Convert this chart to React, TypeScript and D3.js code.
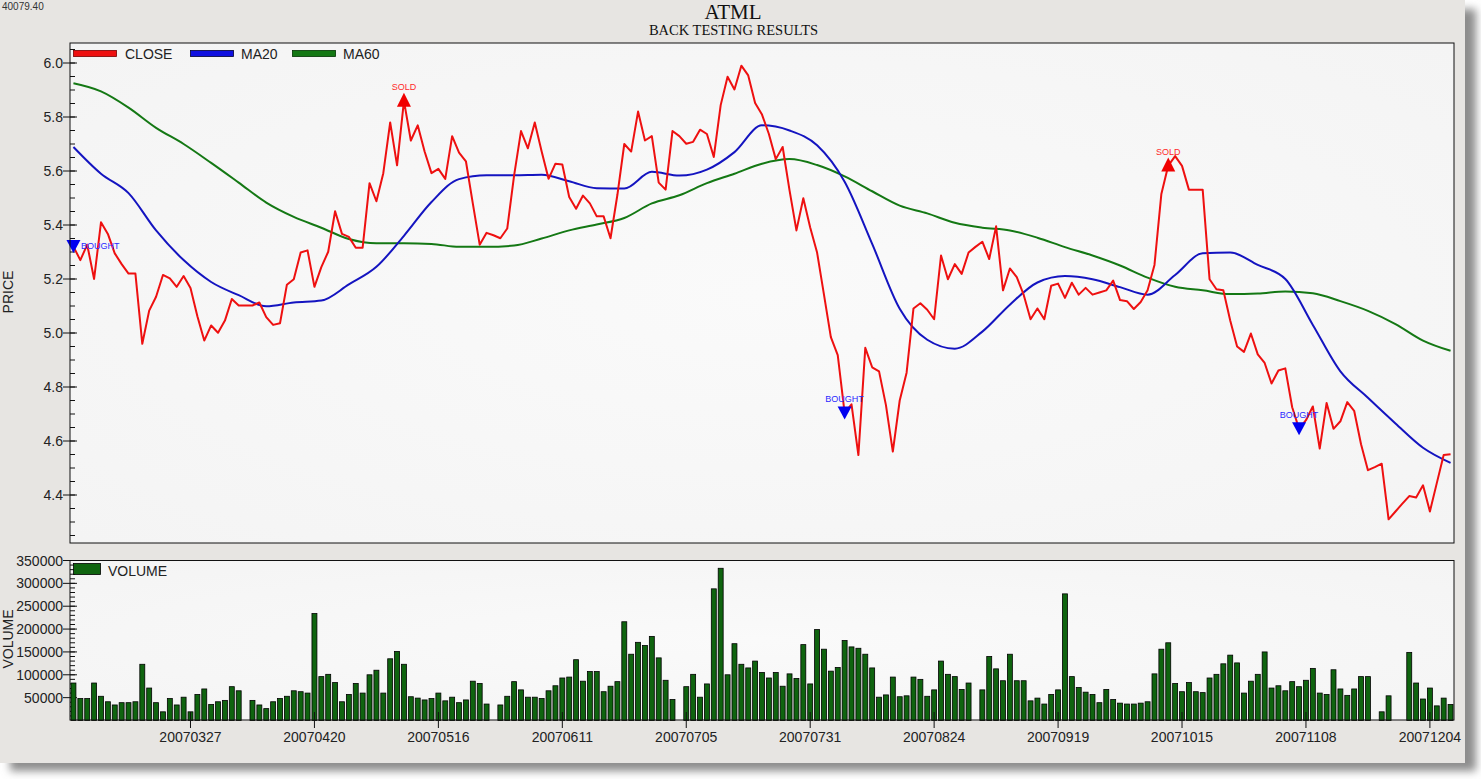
import React from 'react';
import * as d3 from 'd3';

// ---------- DATA ----------
const CLOSE: number[] = [
  5.32, 5.27, 5.327, 5.2, 5.41, 5.367, 5.295, 5.255, 5.22, 5.22,
  4.96, 5.083, 5.134, 5.215, 5.202, 5.171, 5.211, 5.167, 5.062, 4.972,
  5.028, 5.001, 5.046, 5.126, 5.102, 5.102, 5.102, 5.113, 5.059, 5.03,
  5.036, 5.179, 5.199, 5.298, 5.306, 5.171, 5.244, 5.301, 5.451, 5.367,
  5.356, 5.316, 5.316, 5.555, 5.488, 5.592, 5.78, 5.621, 5.86, 5.713,
  5.769, 5.672, 5.592, 5.608, 5.571, 5.729, 5.668, 5.636, 5.48, 5.327,
  5.371, 5.362, 5.351, 5.387, 5.584, 5.748, 5.684, 5.78, 5.672, 5.571,
  5.627, 5.624, 5.504, 5.46, 5.509, 5.48, 5.432, 5.432, 5.351, 5.512,
  5.7, 5.672, 5.82, 5.713, 5.729, 5.557, 5.531, 5.748, 5.729, 5.701,
  5.708, 5.753, 5.737, 5.652, 5.844, 5.949, 5.902, 5.99, 5.954, 5.852,
  5.809, 5.737, 5.644, 5.689, 5.528, 5.38, 5.499, 5.391, 5.298, 5.142,
  4.985, 4.918, 4.704, 4.736, 4.548, 4.945, 4.873, 4.858, 4.733, 4.561,
  4.75, 4.853, 5.091, 5.11, 5.086, 5.051, 5.287, 5.199, 5.255, 5.219,
  5.298, 5.319, 5.338, 5.274, 5.395, 5.158, 5.239, 5.207, 5.142, 5.051,
  5.091, 5.051, 5.175, 5.183, 5.13, 5.186, 5.142, 5.167, 5.142, 5.15,
  5.158, 5.194, 5.122, 5.118, 5.089, 5.115, 5.158, 5.252, 5.515, 5.62,
  5.655, 5.619, 5.531, 5.531, 5.531, 5.199, 5.162, 5.158, 5.046, 4.95,
  4.93, 4.998, 4.921, 4.889, 4.813, 4.861, 4.869, 4.725, 4.645, 4.677,
  4.728, 4.572, 4.741, 4.645, 4.673, 4.744, 4.712, 4.588, 4.492, 4.503,
  4.516, 4.31, 4.339, 4.368, 4.396, 4.391, 4.436, 4.339, 4.444, 4.548,
  4.551,
];

const VOLUME: number[] = [
  82000, 48000, 48000, 82000, 53000, 41000, 34000, 39000, 39000, 41000,
  123000, 71000, 39000, 19000, 48000, 34000, 51000, 19000, 57000, 69000,
  35000, 41000, 44000, 74000, 65000, 0, 44000, 34000, 26000, 41000,
  48000, 53000, 65000, 63000, 60000, 234000, 96000, 101000, 83000, 41000,
  57000, 81000, 60000, 100000, 110000, 60000, 135000, 151000, 123000, 52000,
  49000, 45000, 48000, 60000, 43000, 51000, 39000, 45000, 86000, 81000,
  36000, 0, 34000, 53000, 85000, 67000, 51000, 51000, 48000, 65000,
  76000, 93000, 95000, 133000, 86000, 107000, 107000, 63000, 75000, 85000,
  216000, 145000, 171000, 164000, 184000, 137000, 88000, 46000, 0, 74000,
  101000, 51000, 80000, 288000, 333000, 100000, 168000, 123000, 115000, 130000,
  105000, 93000, 105000, 75000, 102000, 92000, 166000, 80000, 199000, 156000,
  108000, 116000, 175000, 161000, 158000, 145000, 115000, 51000, 56000, 95000,
  52000, 54000, 95000, 90000, 53000, 67000, 130000, 101000, 96000, 68000,
  82000, 0, 67000, 140000, 113000, 87000, 145000, 87000, 87000, 43000,
  49000, 36000, 57000, 67000, 277000, 96000, 72000, 62000, 57000, 39000,
  68000, 46000, 38000, 36000, 36000, 38000, 41000, 102000, 156000, 170000,
  81000, 63000, 83000, 63000, 61000, 93000, 101000, 124000, 143000, 126000,
  60000, 86000, 101000, 150000, 71000, 76000, 65000, 85000, 74000, 88000,
  114000, 60000, 57000, 111000, 69000, 55000, 69000, 96000, 96000, 0,
  19000, 54000, 0, 0, 149000, 82000, 47000, 71000, 32000, 49000,
  35000,
];

const MA_INDEX: number[] = [
  0, 4, 8, 12, 16, 20, 24, 28, 32, 36, 40, 44, 48, 52, 56, 60, 64, 68, 72, 76,
  80, 84, 88, 92, 96, 100, 104, 108, 112, 116, 120, 124, 128, 132, 136, 140,
  144, 148, 152, 156, 160, 164, 168, 172, 176, 180, 184, 188, 192, 196, 200,
];

const MA20: number[] = [
  5.689, 5.59, 5.518, 5.38, 5.27, 5.189, 5.14, 5.099, 5.113, 5.12,
  5.18, 5.245, 5.36, 5.485, 5.57, 5.584, 5.584, 5.586, 5.562, 5.536,
  5.535, 5.597, 5.583, 5.605, 5.67, 5.769, 5.75, 5.695, 5.56, 5.33,
  5.09, 4.975, 4.942, 5.005, 5.105, 5.187, 5.211, 5.199, 5.17, 5.142,
  5.215, 5.295, 5.298, 5.252, 5.2, 5.03, 4.858, 4.76, 4.665, 4.575,
  4.519,
];

const MA60: number[] = [
  5.925, 5.895, 5.835, 5.76, 5.7, 5.63, 5.557, 5.483, 5.43, 5.39,
  5.348, 5.332, 5.332, 5.33, 5.319, 5.319, 5.324, 5.35, 5.38, 5.402,
  5.426, 5.48, 5.51, 5.555, 5.59, 5.627, 5.644, 5.622, 5.58, 5.525,
  5.472, 5.443, 5.408, 5.39, 5.38, 5.353, 5.318, 5.287, 5.25, 5.205,
  5.171, 5.158, 5.144, 5.146, 5.154, 5.147, 5.118, 5.082, 5.033, 4.972,
  4.934,
];

const TICK_INDEX: number[] = [17, 35, 53, 71, 89, 107, 125, 143, 161, 179, 197];
const TICK_LABELS: string[] = [
  '20070327', '20070420', '20070516', '20070611', '20070705', '20070731',
  '20070824', '20070919', '20071015', '20071108', '20071204',
];

const PRICE_TICKS: number[] = [4.4, 4.6, 4.8, 5.0, 5.2, 5.4, 5.6, 5.8, 6.0];
const VOLUME_TICKS: number[] = [50000, 100000, 150000, 200000, 250000, 300000, 350000];

const SIGNAL_INDEX: number[] = [0, 48, 112, 159, 178];
const SIGNAL_TYPE: string[] = ['BOUGHT', 'SOLD', 'BOUGHT', 'SOLD', 'BOUGHT'];

// ---------- LAYOUT ----------
const W = 1481;
const H = 779;
const PL = 70;
const PR = 1454;
const P_TOP = 43;
const P_BOT = 543;
const V_TOP = 560.5;
const V_BOT = 720;

const SANS = '"Liberation Sans", Arial, sans-serif';
const SERIF = '"Liberation Serif", "Times New Roman", serif';

const RED = '#ee1010';
const BLUE = '#1414c0';
const GREEN = '#147814';
const BAR = '#0f640f';

export default function App() {
  const n = CLOSE.length;
  const x = d3.scaleLinear().domain([-0.5, n - 0.5]).range([PL, PR]);
  const step = (PR - PL) / n;
  const barW = step * 0.72;

  const y = d3.scaleLinear().domain([4.4, 6.0]).range([495, 63]);
  const yv = d3.scaleLinear().domain([0, 350000]).range([V_BOT + 0.5, V_TOP]);

  const closeLine = d3
    .line<number>()
    .x((_, i) => x(i))
    .y((d) => y(d))(CLOSE) as string;

  const maLine = (vals: number[]) =>
    d3
      .line<number>()
      .x((_, i) => x(MA_INDEX[i]))
      .y((d) => y(d))
      .curve(d3.curveMonotoneX)(vals) as string;

  const pMinor = d3.range(Math.ceil(y.invert(P_BOT) * 20), Math.floor(y.invert(P_TOP) * 20) + 1).map((v) => v / 20);
  const vMinor = d3.range(1, 36).map((v) => v * 10000);

  return (
    <svg
      width={W}
      height={H}
      style={{ position: 'absolute', left: 0, top: 0, display: 'block', background: '#ffffff' }}
    >
      <defs>
        <filter id="shadow" x="-3%" y="-3%" width="106%" height="106%">
          <feGaussianBlur stdDeviation="4" />
        </filter>
        <clipPath id="pclip">
          <rect x={PL} y={P_TOP} width={PR - PL} height={P_BOT - P_TOP} />
        </clipPath>
        <radialGradient id="pbg" cx="50%" cy="50%" r="70%">
          <stop offset="0%" stopColor="#fafafa" />
          <stop offset="100%" stopColor="#f4f4f4" />
        </radialGradient>
      </defs>

      {/* frame + shadow */}
      <rect x={10} y={9} width={1466} height={762} fill="#8c8c8c" filter="url(#shadow)" />
      <rect x={0} y={0} width={1465} height={763} fill="#e7e5e2" />

      <text x={2} y={10} fontFamily={SANS} fontSize={10} fill="#333">40079.40</text>
      <text x={733} y={18.5} textAnchor="middle" fontFamily={SERIF} fontSize={21} fill="#111">ATML</text>
      <text x={733.5} y={35} textAnchor="middle" fontFamily={SERIF} fontSize={14.5} fill="#111">BACK TESTING RESULTS</text>

      {/* ---------- PRICE PANEL ---------- */}
      <rect x={PL} y={P_TOP} width={PR - PL} height={P_BOT - P_TOP} fill="url(#pbg)" />
      {pMinor.map((v) => (
        <line key={'pm' + v} x1={PL} x2={PL + 5} y1={y(v)} y2={y(v)} stroke="#111" strokeWidth={1} />
      ))}
      {PRICE_TICKS.map((v) => (
        <g key={'pt' + v}>
          <line x1={PL - 7} x2={PL + 7} y1={y(v)} y2={y(v)} stroke="#111" strokeWidth={1} />
          <text x={PL - 7} y={y(v) + 5} textAnchor="end" fontFamily={SANS} fontSize={14} fill="#222">
            {v.toFixed(1)}
          </text>
        </g>
      ))}
      <text transform="translate(13,292) rotate(-90)" textAnchor="middle" fontFamily={SANS} fontSize={14} fill="#222">PRICE</text>

      <g clipPath="url(#pclip)">
        <path d={maLine(MA60)} fill="none" stroke={GREEN} strokeWidth={2} />
        <path d={maLine(MA20)} fill="none" stroke={BLUE} strokeWidth={2} />
        <path d={closeLine} fill="none" stroke={RED} strokeWidth={2} strokeLinejoin="round" />
      </g>

      {/* signals */}
      {SIGNAL_INDEX.map((idx, k) => {
        const cx = x(idx);
        const cy = y(CLOSE[idx]);
        const bought = SIGNAL_TYPE[k] === 'BOUGHT';
        const col = bought ? '#0000f0' : '#f00000';
        const tri = bought
          ? `M${cx - 7},${cy - 6.5}L${cx + 7},${cy - 6.5}L${cx},${cy + 6.5}Z`
          : `M${cx},${cy - 8}L${cx + 7},${cy + 6}L${cx - 7},${cy + 6}Z`;
        const nearLeft = cx - 20 < PL;
        return (
          <g key={'sig' + k}>
            <path d={tri} fill={col} />
            <text
              x={nearLeft ? cx + 7.5 : cx}
              y={nearLeft ? cy + 2 : cy - 11}
              textAnchor={nearLeft ? 'start' : 'middle'}
              fontFamily={SANS}
              fontSize={9}
              fill={bought ? '#2a2aff' : '#ff2a2a'}
            >
              {SIGNAL_TYPE[k]}
            </text>
          </g>
        );
      })}

      {/* legend */}
      <rect x={73.5} y={50.5} width={43} height={6} fill={RED} stroke="#700" strokeWidth={0.8} />
      <text x={125} y={59} fontFamily={SANS} fontSize={14} fill="#222">CLOSE</text>
      <rect x={190.5} y={50.5} width={43} height={6} fill="#1010e0" stroke="#003" strokeWidth={0.8} />
      <text x={241} y={59} fontFamily={SANS} fontSize={14} fill="#222">MA20</text>
      <rect x={292.5} y={50.5} width={43} height={6} fill={GREEN} stroke="#030" strokeWidth={0.8} />
      <text x={343} y={59} fontFamily={SANS} fontSize={14} fill="#222">MA60</text>

      <rect x={PL} y={P_TOP} width={PR - PL} height={P_BOT - P_TOP} fill="none" stroke="#111" strokeWidth={1} />

      {/* ---------- VOLUME PANEL ---------- */}
      <rect x={PL} y={V_TOP} width={PR - PL} height={V_BOT - V_TOP} fill="url(#pbg)" />
      {vMinor.map((v) => (
        <line key={'vm' + v} x1={PL} x2={PL + 5} y1={yv(v)} y2={yv(v)} stroke="#111" strokeWidth={1} />
      ))}
      {VOLUME_TICKS.map((v) => (
        <g key={'vt' + v}>
          <line x1={PL - 7} x2={PL + 7} y1={yv(v)} y2={yv(v)} stroke="#111" strokeWidth={1} />
          <text x={PL - 7} y={yv(v) + 5} textAnchor="end" fontFamily={SANS} fontSize={14} fill="#222">
            {String(v)}
          </text>
        </g>
      ))}
      <text transform="translate(13,639) rotate(-90)" textAnchor="middle" fontFamily={SANS} fontSize={14} fill="#222">VOLUME</text>

      {VOLUME.map((v, i) =>
        v > 0 ? (
          <rect
            key={'b' + i}
            x={x(i) - barW / 2}
            y={yv(v)}
            width={barW}
            height={yv(0) - yv(v)}
            fill={BAR}
            stroke="#000"
            strokeWidth={0.8}
          />
        ) : null
      )}

      <rect x={73.5} y={563.5} width={27} height={11} fill={BAR} stroke="#000" strokeWidth={0.8} />
      <text x={108} y={576} fontFamily={SANS} fontSize={14} fill="#222">VOLUME</text>

      <rect x={PL} y={V_TOP} width={PR - PL} height={V_BOT - V_TOP} fill="none" stroke="#111" strokeWidth={1} />

      {TICK_INDEX.map((idx, k) => (
        <g key={'xt' + idx}>
          <line x1={x(idx)} x2={x(idx)} y1={V_BOT - 8} y2={V_BOT + 8} stroke="#111" strokeWidth={1} />
          <text x={x(idx)} y={741.5} textAnchor="middle" fontFamily={SANS} fontSize={14} fill="#222">
            {TICK_LABELS[k]}
          </text>
        </g>
      ))}
    </svg>
  );
}
